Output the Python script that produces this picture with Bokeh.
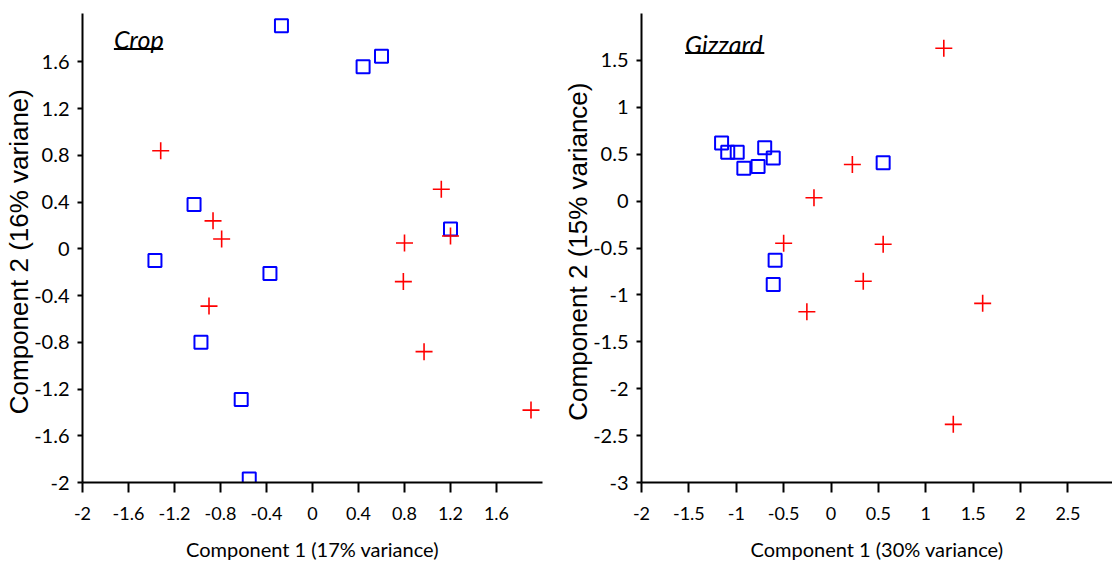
from bokeh.plotting import figure
from bokeh.layouts import row
from bokeh.models import FixedTicker, CustomJSTickFormatter, Label, Range1d
from bokeh.embed import file_html
from bokeh.resources import INLINE

# ---- Crop: PCA scores ----
crop_sq_x = [-0.27, 0.44, 0.60, -1.03, -1.37, -0.37, 1.20, -0.97, -0.62, -0.55]
crop_sq_y = [1.91, 1.56, 1.65, 0.38, -0.10, -0.21, 0.17, -0.80, -1.29, -1.97]
crop_pl_x = [-1.32, -0.865, -0.79, -0.90, 1.12, 1.20, 0.80, 0.79, 0.97, 1.90]
crop_pl_y = [0.84, 0.24, 0.085, -0.49, 0.51, 0.11, 0.05, -0.28, -0.88, -1.38]
crop_ticks = [-2, -1.6, -1.2, -0.8, -0.4, 0, 0.4, 0.8, 1.2, 1.6]

# ---- Gizzard: PCA scores ----
giz_sq_x = [-1.155, -1.09, -0.99, -0.92, -0.77, -0.70, -0.61, -0.59, -0.61, 0.55]
giz_sq_y = [0.62, 0.52, 0.52, 0.35, 0.37, 0.57, 0.46, -0.63, -0.89, 0.41]
giz_pl_x = [-0.18, -0.50, -0.255, 1.19, 0.225, 0.55, 0.34, 1.60, 1.29]
giz_pl_y = [0.035, -0.45, -1.18, 1.63, 0.39, -0.46, -0.855, -1.09, -2.38]
giz_ticks_x = [-2, -1.5, -1, -0.5, 0, 0.5, 1, 1.5, 2, 2.5]
giz_ticks_y = [-3, -2.5, -2, -1.5, -1, -0.5, 0, 0.5, 1, 1.5]

fmt_code = "return String(Math.round(tick * 10) / 10);"


def style_axes(p, xticks, yticks, xlabel, ylabel):
    p.xaxis.ticker = FixedTicker(ticks=xticks)
    p.yaxis.ticker = FixedTicker(ticks=yticks)
    for ax in (p.xaxis[0], p.yaxis[0]):
        ax.formatter = CustomJSTickFormatter(code=fmt_code)
        ax.axis_line_color = "black"
        ax.axis_line_width = 2
        ax.major_tick_line_color = "black"
        ax.major_tick_line_width = 2
        ax.major_tick_in = 0
        ax.minor_tick_line_color = None
        ax.major_label_text_font = "Lato"
        ax.major_label_text_color = "black"
    p.xaxis.major_tick_out = 10
    p.yaxis.major_tick_out = 5
    p.xaxis.major_label_text_font_size = "18px"
    p.yaxis.major_label_text_font_size = "20px"
    p.xaxis.major_label_standoff = 14
    p.yaxis.major_label_standoff = 8
    p.xaxis.axis_label = xlabel
    p.xaxis.axis_label_text_font = "Lato"
    p.xaxis.axis_label_text_font_size = "20px"
    p.xaxis.axis_label_text_font_style = "normal"
    p.xaxis.axis_label_text_color = "black"
    p.xaxis.axis_label_standoff = 14
    p.yaxis.axis_label = ylabel
    p.yaxis.axis_label_text_font = "Liberation Sans"
    p.yaxis.axis_label_text_font_size = "26px"
    p.yaxis.axis_label_text_font_style = "normal"
    p.yaxis.axis_label_text_color = "black"
    p.yaxis.axis_label_standoff = -3
    p.xgrid.visible = False
    p.ygrid.visible = False
    p.outline_line_color = None


def make_panel(width, left, right, xr, yr):
    return figure(width=width, height=563, x_range=Range1d(*xr), y_range=Range1d(*yr),
                  min_border_left=left, min_border_right=right,
                  min_border_top=13, min_border_bottom=81,
                  toolbar_location=None, output_backend="svg")


def add_points(p, sx, sy, cx, cy):
    p.scatter(sx, sy, marker="square", size=13, fill_color=None,
              line_color="blue", line_width=2)
    p.scatter(cx, cy, marker="cross", size=17, line_color="red", line_width=1.6)


def add_heading(p, text, x, y, x_end, y_line):
    p.add_layout(Label(x=x, y=y, text=text, text_font="Lato", text_font_size="25px",
                       text_font_style="italic", text_color="black",
                       text_baseline="alphabetic", text_align="left"))
    p.segment(x0=[x], y0=[y_line], x1=[x_end], y1=[y_line], line_color="black", line_width=2)


# Crop panel
p1 = make_panel(560, 82, 18, (-2, 2.0), (-2, 2.015))
add_points(p1, crop_sq_x, crop_sq_y, crop_pl_x, crop_pl_y)
add_heading(p1, "Crop", -1.727, 1.80, -1.298, 1.712)
style_axes(p1, crop_ticks, crop_ticks,
           "Component 1 (17% variance)", "Component 2 (16%  variane)")

# Gizzard panel
p2 = make_panel(552, 79, 0, (-2, 2.97), (-3, 2.0))
add_points(p2, giz_sq_x, giz_sq_y, giz_pl_x, giz_pl_y)
add_heading(p2, "Gizzard", -1.54, 1.68, -0.704, 1.58)
style_axes(p2, giz_ticks_x, giz_ticks_y,
           "Component 1 (30% variance)", "Component 2 (15%  variance)")

layout = row(p1, p2)
open("out.html", "w").write(file_html(layout, INLINE))
